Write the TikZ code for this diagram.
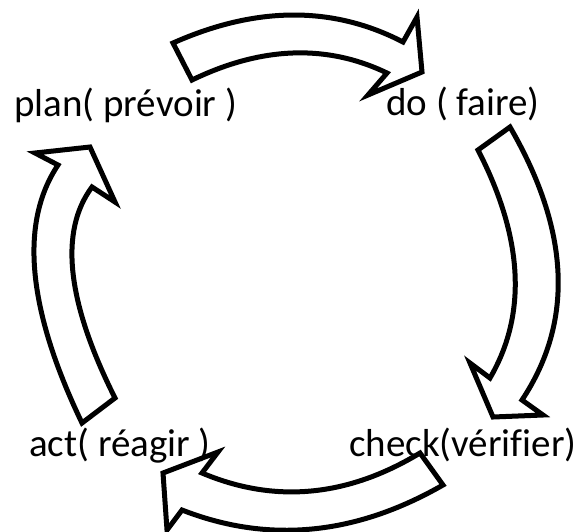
\documentclass[tikz,border=0pt]{standalone}
\usepackage{fontspec}
\setmainfont[Ligatures=NoCommon]{Carlito}
\begin{document}
\begin{tikzpicture}[x=1pt,y=-1pt,
  blockarrow/.style={draw=black,fill=white,line width=5pt,line join=miter},
  phase/.style={inner sep=0pt,anchor=base west,font=\fontsize{39}{44}\selectfont}]
\useasboundingbox (0,0) rectangle (583,531);
% plan -> do
\draw[blockarrow] (173,43) .. controls (256.3,6) and (333,5.7) .. (403,42)
  -- (417,17) -- (422,72) -- (368,95) -- (387,73)
  .. controls (326.7,44) and (261.7,46.3) .. (192,80) -- cycle;
% do -> check
\draw[blockarrow] (510,127) .. controls (570,230.7) and (574,321.7) .. (522,400)
  -- (543,415) -- (493,417) -- (470,363) -- (490,378)
  .. controls (527.3,314) and (523.3,238) .. (478,150) -- cycle;
% check -> act
\draw[blockarrow] (420,453) .. controls (347.3,497) and (274.7,503.7) .. (202,473)
  -- (218,452) -- (163,473) -- (167,530) -- (182,510)
  .. controls (268.3,543.7) and (355.3,535.3) .. (443,485) -- cycle;
% act -> plan
\draw[blockarrow] (82,423) .. controls (27.3,309) and (19.3,223) .. (58,165)
  -- (35,153) -- (90,147) -- (115,202) -- (92,187)
  .. controls (59,231.3) and (66.7,301.7) .. (115,398) -- cycle;
% phase labels
\node[phase] (plan) at (14,116) {plan( prévoir )};
\node[phase] (do) at (386,115) {do ( faire)};
\node[phase] (act) at (29,456) {act( réagir )};
\node[phase] (check) at (349,456) {check(vérifier)};
\end{tikzpicture}
\end{document}
